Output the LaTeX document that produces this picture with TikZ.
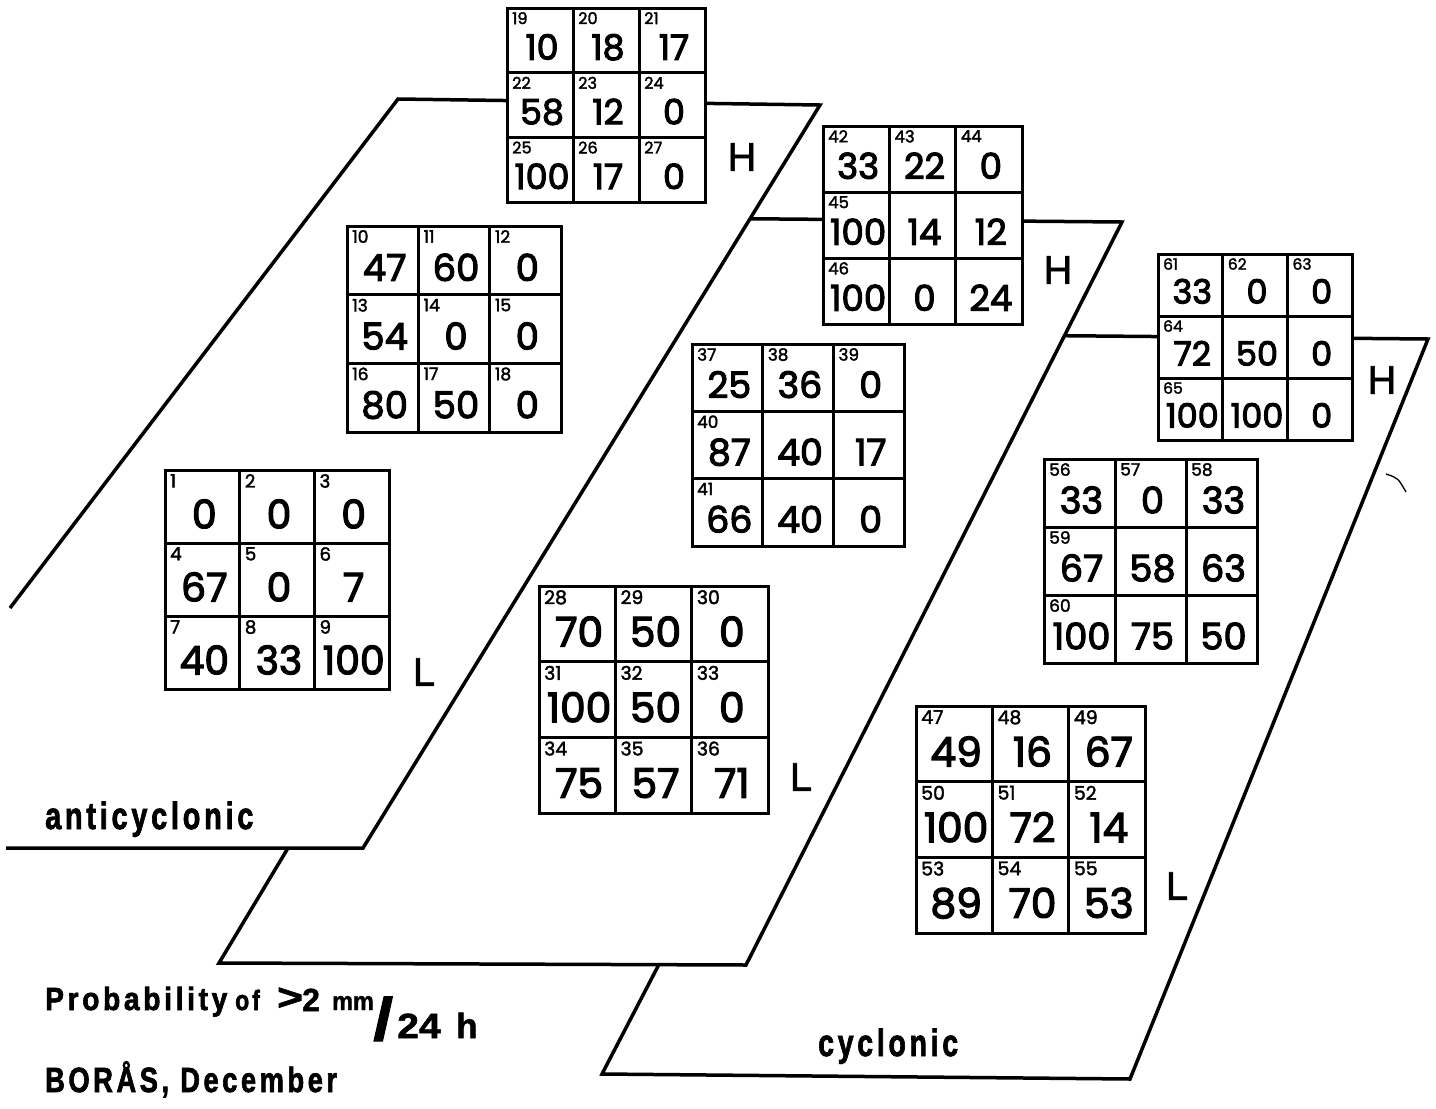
\documentclass[tikz,border=0pt]{standalone}
\usepackage{fontspec}
\setmainfont{Liberation Sans}
\newfontfamily\numfont[FakeBold=3]{Poppins}
\newfontfamily\idxfont[FakeBold=2]{Poppins}
\newfontfamily\hlfont[FakeBold=1.5]{Liberation Sans}
\newfontfamily\capfont[LetterSpace=13,FakeBold=2.2]{Liberation Sans Bold}
\newfontfamily\unitfont[FakeBold=1.5]{Liberation Sans Bold}
\newsavebox\numbox
\newcommand\fitnum[2]{\sbox\numbox{#2}\pgfmathsetmacro\fitfac{min(1,#1/\the\wd\numbox)}\scalebox{\fitfac}[1]{\usebox\numbox}}
\newcommand\captext[3]{\scalebox{#1}[1]{\fontsize{#2}{#2}\selectfont\capfont #3}}
\tikzset{
  plane/.style={line width=3.5pt, draw=black, fill=white, line join=miter},
  gridline/.style={line width=3pt, draw=black},
  gridbox/.style={gridline, fill=white, inner sep=0pt, outer sep=0pt, anchor=north west},
  bignum/.style={inner sep=0pt, anchor=base},
  idxnum/.style={inner sep=0pt, anchor=north west},
  hl/.style={inner sep=0pt, font=\fontsize{40}{40}\selectfont\hlfont},
  captxt/.style={inner sep=0pt, anchor=base west},
}
\newcommand\cellgrid[6]{%
  \pgfmathsetmacro\gw{(#4-#2)/3}%
  \pgfmathsetmacro\gh{(#5-#3)/3}%
  \pgfmathsetmacro\fs{0.54*\gh}%
  \pgfmathsetmacro\ifs{0.25*\gh}%
  \pgfmathsetmacro\fw{0.95*\gw}%
  \node[gridbox, minimum width={(#4-#2)*1pt}, minimum height={(#5-#3)*1pt}] (#1) at (#2,#3) {};
  \draw[gridline] ({#2+\gw},#3) -- ({#2+\gw},#5);
  \draw[gridline] ({#2+2*\gw},#3) -- ({#2+2*\gw},#5);
  \draw[gridline] (#2,{#3+\gh}) -- (#4,{#3+\gh});
  \draw[gridline] (#2,{#3+2*\gh}) -- (#4,{#3+2*\gh});
  \foreach \id/\nm [count=\k from 0] in {#6}{%
    \pgfmathtruncatemacro\cc{mod(\k,3)}%
    \pgfmathtruncatemacro\rr{\k/3}%
    \pgfmathsetmacro\cx{#2+(\cc+0.5)*\gw+2}%
    \pgfmathsetmacro\by{#3+(\rr+0.8)*\gh}%
    \pgfmathsetmacro\lx{#2+\cc*\gw+5}%
    \pgfmathsetmacro\ty{#3+\rr*\gh+4}%
    \node[bignum] (#1-n\k) at (\cx,\by) {\fontsize{\fs}{\fs}\selectfont\numfont\fitnum{\fw}{\nm}};
    \node[idxnum] (#1-i\k) at (\lx,\ty) {\fontsize{\ifs}{\ifs}\selectfont\idxfont\id};
  }%
}
\begin{document}
\begin{tikzpicture}[x=1pt, y=-1pt]
\useasboundingbox (0,0) rectangle (1436,1109);
\fill[white] (0,0) rectangle (1436,1109);
% planes (back to front)
\coordinate (p3a) at (986,335);
\coordinate (p3b) at (1428,339);
\coordinate (p3c) at (1130,1079);
\coordinate (p3d) at (602,1074);
\coordinate (p2a) at (666,218);
\coordinate (p2b) at (1122,222);
\coordinate (p2c) at (746,965);
\coordinate (p2d) at (219,963);
\coordinate (p1a) at (10,608);
\coordinate (p1b) at (398,99);
\coordinate (p1c) at (820,105);
\coordinate (p1d) at (363,848);
\coordinate (p1e) at (6,848);
\filldraw[plane] (p3a) -- (p3b) -- (p3c) -- (p3d) -- cycle;
\filldraw[plane] (p2a) -- (p2b) -- (p2c) -- (p2d) -- cycle;
\fill[white] (p1a) -- (p1b) -- (p1c) -- (p1d) -- (p1e) -- cycle;
\draw[plane, fill=none] (p1a) -- (p1b) -- (p1c) -- (p1d) -- (p1e);
% small pen mark
\coordinate (mk1) at (1386,474);
\coordinate (mk2) at (1406,492);
\draw[line width=1.3pt] (mk1) .. controls (1398,478) .. (mk2);
% grids
\cellgrid{gA}{165}{470}{389}{689}{1/0,2/0,3/0,4/67,5/0,6/7,7/40,8/33,9/100}
\cellgrid{gB}{347}{226}{561}{432}{10/47,11/60,12/0,13/54,14/0,15/0,16/80,17/50,18/0}
\cellgrid{gC}{507}{8}{705}{202}{19/10,20/18,21/17,22/58,23/12,24/0,25/100,26/17,27/0}
\cellgrid{gD}{539}{586}{768}{813}{28/70,29/50,30/0,31/100,32/50,33/0,34/75,35/57,36/71}
\cellgrid{gE}{692}{344}{904}{546}{37/25,38/36,39/0,40/87,/40,/17,41/66,/40,/0}
\cellgrid{gF}{823}{126}{1022}{324}{42/33,43/22,44/0,45/100,/14,/12,46/100,/0,/24}
\cellgrid{gG}{1158}{254}{1352}{440}{61/33,62/0,63/0,64/72,/50,/0,65/100,/100,/0}
\cellgrid{gH}{1044}{459}{1257}{663}{56/33,57/0,58/33,59/67,/58,/63,60/100,/75,/50}
\cellgrid{gI}{916}{706}{1145}{933}{47/49,48/16,49/67,50/100,51/72,52/14,53/89,54/70,55/53}
% H / L labels
\node[hl] (hC) at (742,157) {H};
\node[hl] (hF) at (1058,270) {H};
\node[hl] (hG) at (1382,380) {H};
\node[hl] (lA) at (424,672) {L};
\node[hl] (lD) at (801,777) {L};
\node[hl] (lI) at (1177,886) {L};
% captions
\node[captxt] (anti) at (45,829) {\captext{0.76}{38}{anticyclonic}};
\node[captxt] (cyc) at (818,1056) {\captext{0.75}{38}{cyclonic}};
\node[captxt] (prob) at (45,1010) {\captext{0.88}{32}{Probability}};
\node[captxt] (of) at (235,1010) {\captext{0.82}{28}{of}};
\node[captxt] (gt) at (277,1010) {\scalebox{1.3}[1.1]{\fontsize{34}{34}\selectfont\unitfont >}};
\node[captxt] (two) at (302,1011) {\fontsize{32}{32}\selectfont\unitfont 2};
\node[captxt] (mm) at (332,1010) {\scalebox{0.9}[1]{\fontsize{26}{26}\selectfont\unitfont mm}};
\node[captxt] (sl) at (373,1040) {\scalebox{1.2}[1]{\fontsize{60}{60}\selectfont\unitfont /}};
\node[captxt] (tf) at (397,1038) {\scalebox{1.12}[1]{\fontsize{35}{35}\selectfont\unitfont 24}};
\node[captxt] (hh) at (456,1038) {\fontsize{35}{35}\selectfont\unitfont h};
\node[captxt] (bor) at (45,1092) {\captext{0.78}{35}{BORÅS, December}};
\end{tikzpicture}
\end{document}
